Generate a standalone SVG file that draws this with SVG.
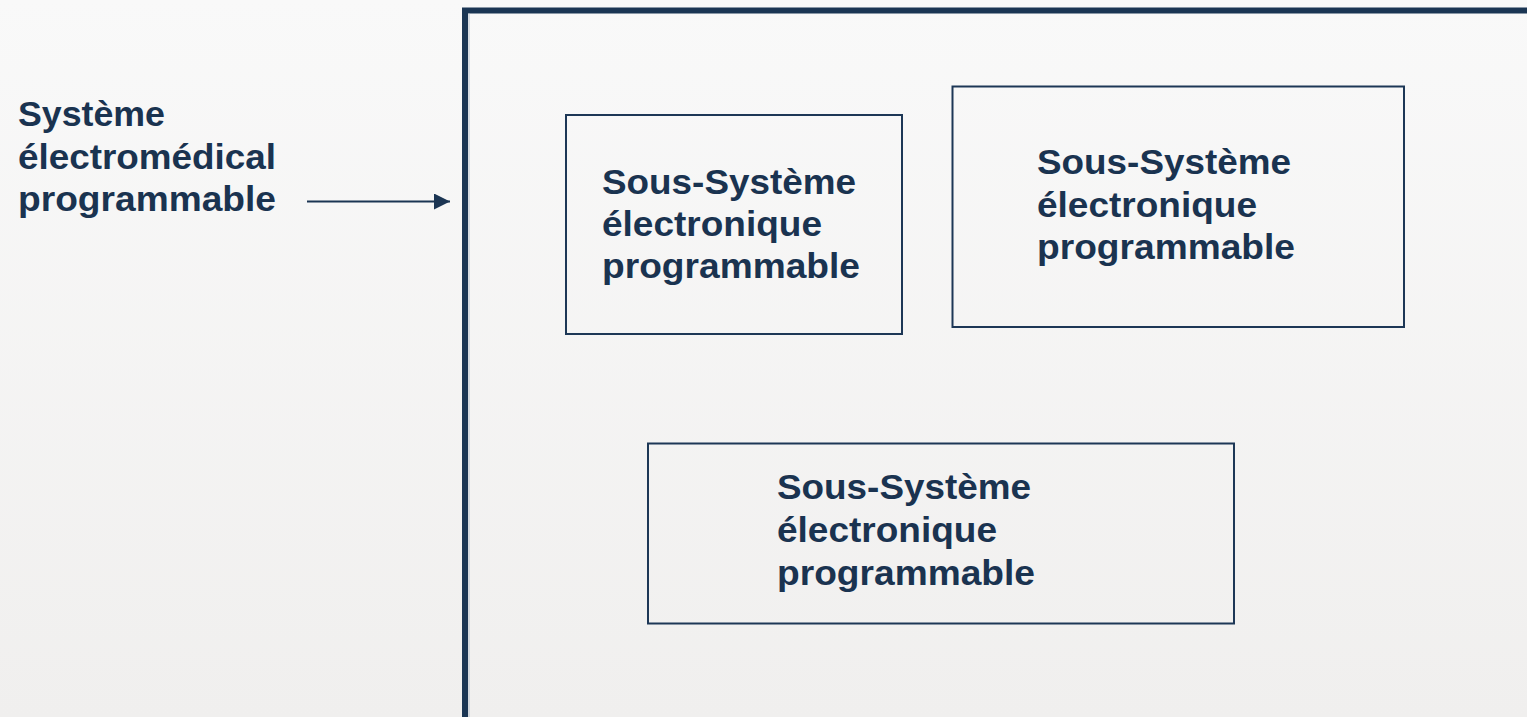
<svg xmlns="http://www.w3.org/2000/svg" width="1527" height="717" viewBox="0 0 1527 717">
  <defs>
    <linearGradient id="bg" x1="0" y1="0" x2="0" y2="1">
      <stop offset="0" stop-color="#f9f9f9"/>
      <stop offset="1" stop-color="#f0efee"/>
    </linearGradient>
    <marker id="arrowhead" viewBox="0 0 16 16" refX="16" refY="8" markerWidth="16" markerHeight="16" markerUnits="userSpaceOnUse" orient="auto">
      <path d="M0,0 L16,8 L0,16 Z" fill="#1b3553"/>
    </marker>
  </defs>
  <style>
    .lbl { font-family: "Liberation Sans", Arial, sans-serif; font-weight: bold; font-size: 35.5px; fill: #1a3350; }
    .box { fill: none; stroke: #1d3756; stroke-width: 2; }
    .frame { fill: none; stroke: #1b3654; stroke-width: 6; }
    .conn { stroke: #1b3553; stroke-width: 2; fill: none; }
  </style>

  <rect x="0" y="0" width="1527" height="717" fill="url(#bg)"/>

  <!-- outer system boundary -->
  <g id="system-frame">
    <rect class="frame" x="465" y="10.5" width="1200" height="800"/>
    <line x1="469" y1="13.5" x2="469" y2="717" stroke="#b7c1cd" stroke-width="1"/>
  </g>

  <!-- system label -->
  <g id="system-label">
    <text class="lbl" x="18" y="126" textLength="147" lengthAdjust="spacingAndGlyphs">Système</text>
    <text class="lbl" x="18" y="169" textLength="258" lengthAdjust="spacingAndGlyphs">électromédical</text>
    <text class="lbl" x="18" y="211" textLength="258" lengthAdjust="spacingAndGlyphs">programmable</text>
  </g>

  <!-- connectors -->
  <g id="connectors">
    <line class="conn" x1="307" y1="201.5" x2="450" y2="201.5" marker-end="url(#arrowhead)"/>
  </g>

  <g id="subsystem-1">
    <rect class="box" x="566" y="115" width="336" height="219"/>
    <text class="lbl" x="602" y="194" textLength="254" lengthAdjust="spacingAndGlyphs">Sous-Système</text>
    <text class="lbl" x="602" y="236" textLength="220" lengthAdjust="spacingAndGlyphs">électronique</text>
    <text class="lbl" x="602" y="278" textLength="258" lengthAdjust="spacingAndGlyphs">programmable</text>
  </g>

  <g id="subsystem-2">
    <rect class="box" x="952.5" y="86.5" width="451.5" height="240.5"/>
    <text class="lbl" x="1037" y="174" textLength="254" lengthAdjust="spacingAndGlyphs">Sous-Système</text>
    <text class="lbl" x="1037" y="217" textLength="220" lengthAdjust="spacingAndGlyphs">électronique</text>
    <text class="lbl" x="1037" y="259" textLength="258" lengthAdjust="spacingAndGlyphs">programmable</text>
  </g>

  <g id="subsystem-3">
    <rect class="box" x="648" y="443.5" width="586" height="180"/>
    <text class="lbl" x="777" y="499" textLength="254" lengthAdjust="spacingAndGlyphs">Sous-Système</text>
    <text class="lbl" x="777" y="542" textLength="220" lengthAdjust="spacingAndGlyphs">électronique</text>
    <text class="lbl" x="777" y="585" textLength="258" lengthAdjust="spacingAndGlyphs">programmable</text>
  </g>
</svg>
